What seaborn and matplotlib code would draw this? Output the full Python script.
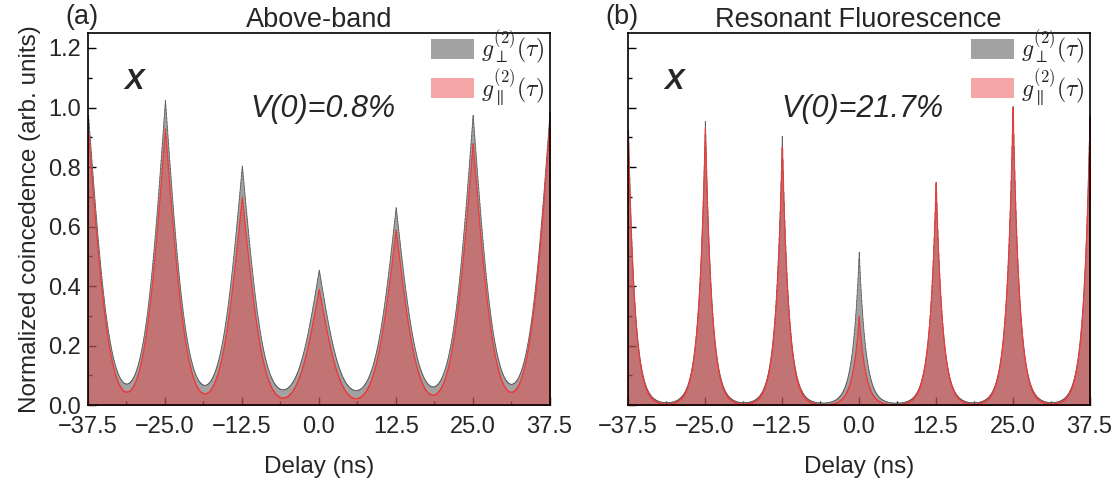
import numpy as np
import pandas as pd
import seaborn as sns
import matplotlib.pyplot as plt
from matplotlib.patches import Patch
from matplotlib.ticker import MultipleLocator

# Peak positions (ns) of the pulsed g2 histograms; the outer +-50 ns peaks only
# feed their tails into the plotted window.
peak_delays = [-50.0, -37.5, -25.0, -12.5, 0.0, 12.5, 25.0, 37.5, 50.0]

# Peak heights (normalized) for cross- and co-polarized detection
ab_perp = [0.90, 0.95, 1.00, 0.78, 0.43, 0.64, 0.95, 0.96, 0.90]
ab_par = [0.88, 0.92, 0.93, 0.70, 0.39, 0.59, 0.88, 0.95, 0.88]
rf_perp = [0.92, 0.92, 0.95, 0.90, 0.51, 0.74, 1.00, 0.97, 0.95]
rf_par = [0.90, 0.90, 0.93, 0.87, 0.30, 0.75, 1.00, 0.96, 0.95]

# Peak shape: exponential decay (ns) with a gaussian roll-off (ns) in the tails
ab_decay, ab_rolloff = 3.5, 4.5
rf_decay, rf_rolloff = 1.05, 60.0
# flat accidental background
ab_floor = [0.025, 0.0]
rf_floor = [0.005, 0.0]

panel_titles = ["Above-band", "Resonant Fluorescence"]
panel_tags = ["(a)", "(b)"]
visibilities = ["V(0)=0.8%", "V(0)=21.7%"]
xticks = [-37.5, -25.0, -12.5, 0.0, 12.5, 25.0, 37.5]
yticks = [0.0, 0.2, 0.4, 0.6, 0.8, 1.0, 1.2]

bin_width = 0.05
edges = np.arange(-37.5 - bin_width / 2, 37.5 + bin_width, bin_width)
centers = 0.5 * (edges[:-1] + edges[1:])


def histogram(heights, decay, rolloff, floor):
    t = centers[:, None] - np.asarray(peak_delays)[None, :]
    shape = np.exp(-np.abs(t) / decay - (t / rolloff) ** 2)
    return floor + (shape * np.asarray(heights)[None, :]).sum(axis=1)


frames = []
for panel, (hp, hq, dec, roll, fl) in enumerate(
    [(ab_perp, ab_par, ab_decay, ab_rolloff, ab_floor),
     (rf_perp, rf_par, rf_decay, rf_rolloff, rf_floor)]):
    for pol, h, f in [("perp", hp, fl[0]), ("par", hq, fl[1])]:
        frames.append(pd.DataFrame({"panel": panel, "pol": pol, "delay": centers,
                                    "counts": histogram(h, dec, roll, f)}))
data = pd.concat(frames, ignore_index=True)

sns.set_theme(style="ticks")
plt.rcParams["font.family"] = ["Liberation Sans", "DejaVu Sans"]
plt.rcParams["mathtext.fontset"] = "cm"

fig = plt.figure(figsize=(11.17, 4.8), dpi=100)
axes = [fig.add_axes([0.0788, 0.156, 0.4132, 0.775]),
        fig.add_axes([0.5622, 0.156, 0.4132, 0.775])]

grey = "#646464"
red = "#ea3c3c"

for panel, ax in enumerate(axes):
    sub = data[data["panel"] == panel]
    perp = sub[sub["pol"] == "perp"]
    par = sub[sub["pol"] == "par"]
    sns.histplot(data=perp, x="delay", weights="counts", binwidth=bin_width,
                 binrange=(edges[0], edges[-1]), element="step", fill=True,
                 color=grey, alpha=0.6, linewidth=0.6, ax=ax)
    sns.histplot(data=par, x="delay", weights="counts", binwidth=bin_width,
                 binrange=(edges[0], edges[-1]), element="step", fill=True,
                 color=red, alpha=0.45, linewidth=0.8, ax=ax)

    ax.set_xlim(-37.5, 37.5)
    ax.set_ylim(0, 1.25)
    ax.set_xticks(xticks)
    ax.set_xticklabels([f"{v:.1f}".replace("-", "\u2212") for v in xticks])
    ax.set_yticks(yticks)
    ax.xaxis.set_minor_locator(MultipleLocator(6.25))
    ax.yaxis.set_minor_locator(MultipleLocator(0.1))
    ax.tick_params(which="both", direction="in", top=False, right=False,
                   labelsize=17, width=1.0, color="black")
    ax.tick_params(which="major", length=6)
    ax.tick_params(which="minor", length=3)
    ax.tick_params(axis="x", which="major", pad=7.5)
    ax.tick_params(axis="y", which="major", pad=5)
    for s in ax.spines.values():
        s.set_visible(True)
        s.set_linewidth(1.2)
        s.set_color("black")
        s.set_zorder(5)
    ax.set_xlabel("Delay (ns)", fontsize=17.5, labelpad=13)
    ax.set_title(panel_titles[panel], fontsize=19.5, pad=4)
    ax.text(-0.05, 1.008, panel_tags[panel], transform=ax.transAxes,
            fontsize=19.5, ha="left", va="bottom")
    ax.text(0.10, 0.872, "X", transform=ax.transAxes, fontsize=21,
            fontweight="bold", fontstyle="italic", ha="center", va="center")
    ax.text(0.508, 0.795, visibilities[panel], transform=ax.transAxes, fontsize=22,
            fontstyle="italic", ha="center", va="center")

    handles = [Patch(facecolor=grey, alpha=0.6, edgecolor="none"),
               Patch(facecolor=red, alpha=0.45, edgecolor="none")]
    ax.legend(handles, [r"$g^{(2)}_{\perp}(\tau)$", r"$g^{(2)}_{\parallel}(\tau)$"],
              loc="upper right", bbox_to_anchor=(1.0, 1.025), frameon=False,
              fontsize=17, handlelength=1.8, handleheight=0.95, handletextpad=0.3,
              labelspacing=0.05, borderaxespad=0.0, borderpad=0.2)

axes[0].set_ylabel("Normalized coincedence (arb. units)", fontsize=17.5, labelpad=5)
axes[1].set_ylabel("")
axes[1].tick_params(labelleft=False)

fig.savefig("out.png", dpi=100)
